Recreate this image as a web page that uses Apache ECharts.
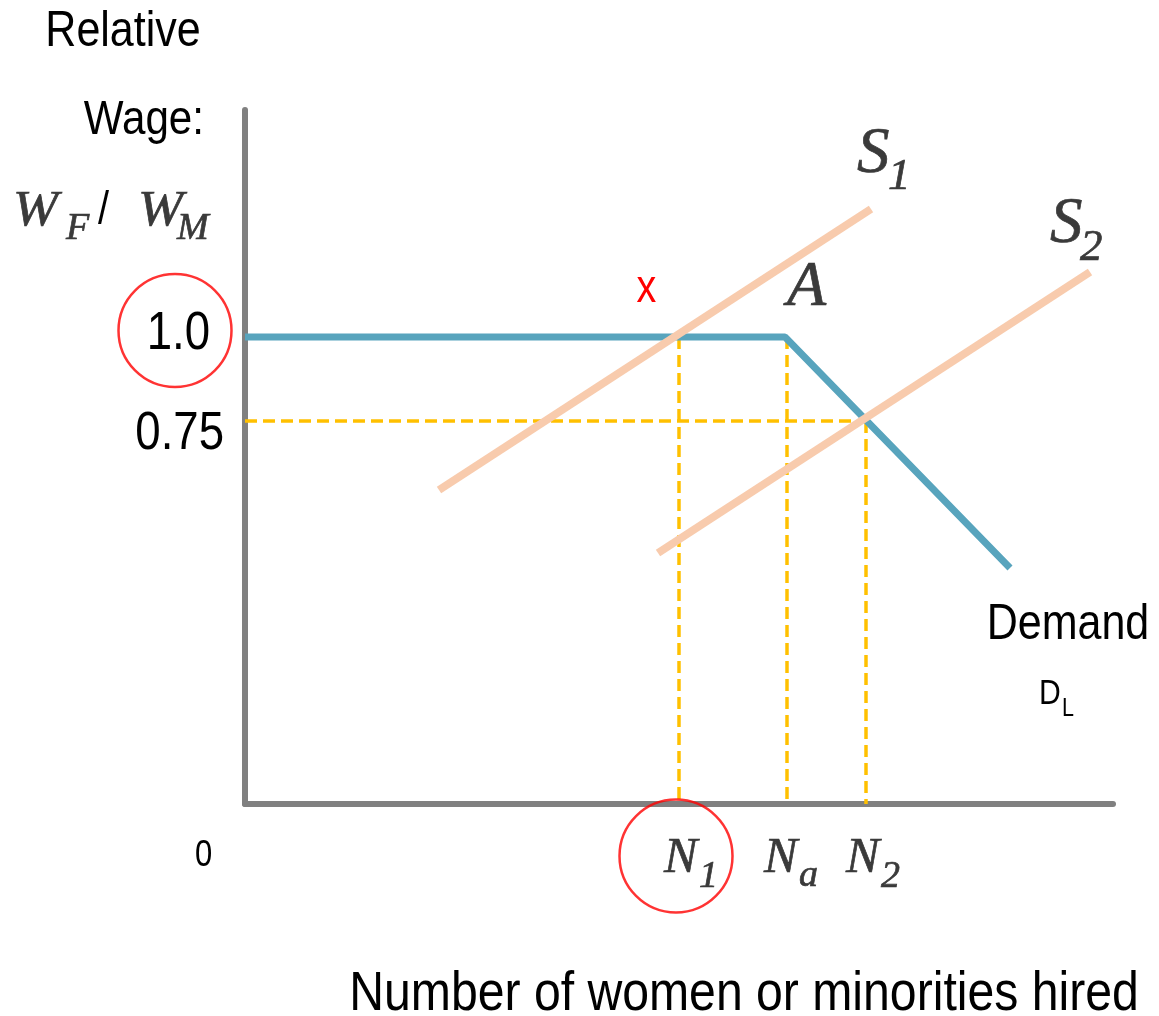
<!DOCTYPE html>
<html>
<head>
<meta charset="utf-8">
<script src="https://cdn.jsdelivr.net/npm/echarts@6/dist/echarts.min.js"></script>
<style>
  html, body { margin: 0; padding: 0; background: #fff; }
  #chart { width: 1159px; height: 1016px; }
</style>
</head>
<body>
<div id="chart"></div>
<script>
// diagram units: x = number hired, y = relative wage (schematic scale)
const demandPts = [[0, 46.7], [54.0, 46.7], [76.5, 23.6]]
const supply1Pts = [[19.4, 31.4], [62.6, 59.5]]
const supply2Pts = [[41.3, 25.1], [84.5, 53.2]]
const wageLevels = [46.7, 38.3] // 1.0, 0.75
const wageLabels = ['1.0', '0.75']
const hireLevels = [43.4, 54.2, 62.1] // N1, Na, N2
const hireSubs = ['1', 'a', '2']

const sansFont = "'Liberation Sans', Arial, sans-serif"
const serifFont = "'Liberation Serif', 'Times New Roman', serif"
const narrow = 0.86 // the original uses a condensed face
const ink = '#3a3a3a'

const W1 = wageLevels[0]
const W2 = wageLevels[1]
const N1 = hireLevels[0]
const Na = hireLevels[1]
const N2 = hireLevels[2]

const dashStyle = { color: '#FFC000', width: 3.5, type: [12, 6] }

function guide(pts) {
  return { type: 'line', data: pts, symbol: 'none', silent: true, lineStyle: dashStyle, z: 1 }
}

const chart = echarts.init(document.getElementById('chart'))

chart.setOption({
  animation: false,
  backgroundColor: '#fff',
  grid: { left: 245, right: 46, top: 110, bottom: 212, containLabel: false, outerBoundsMode: 'none' },
  xAxis: {
    type: 'value',
    min: 0,
    max: 86.8,
    splitLine: { show: false },
    axisTick: { show: false },
    axisLabel: { show: false },
    axisLine: { onZero: false, lineStyle: { color: '#808080', width: 6 } }
  },
  yAxis: {
    type: 'value',
    min: 0,
    max: 69.4,
    splitLine: { show: false },
    axisTick: { show: false },
    axisLabel: { show: false },
    axisLine: { onZero: false, lineStyle: { color: '#808080', width: 6 } }
  },
  series: [
    guide([[0, W2], [N2, W2]]),
    guide([[N1, W1], [N1, 0]]),
    guide([[Na, W1], [Na, 0]]),
    guide([[N2, W2], [N2, 0]]),
    {
      name: 'Demand',
      type: 'line',
      data: demandPts,
      symbol: 'none',
      lineStyle: { color: '#58A4BD', width: 7 },
      z: 2
    },
    {
      name: 'S1',
      type: 'line',
      data: supply1Pts,
      symbol: 'none',
      lineStyle: { color: '#F8CBAD', width: 8 },
      z: 3
    },
    {
      name: 'S2',
      type: 'line',
      data: supply2Pts,
      symbol: 'none',
      lineStyle: { color: '#F8CBAD', width: 8 },
      z: 3
    },
    {
      // red circles around 1.0 and N1
      type: 'scatter',
      clip: false,
      silent: true,
      symbol: 'circle',
      symbolSize: 113,
      itemStyle: { color: 'rgba(0,0,0,0)', borderColor: '#FF0000', borderWidth: 2.5 },
      data: [[-7.0, 47.35], [43.1, -5.2]],
      z: 4
    }
  ]
})

// ---- text, placed through the axes' scales ----
function px(x, y) {
  return chart.convertToPixel({ gridIndex: 0 }, [x, y])
}
function sans(x, y, text, size, align, color) {
  return {
    type: 'text', x: x, y: y, scaleX: narrow, z: 10, silent: true,
    style: { text: text, fontFamily: sansFont, fontSize: size, fill: color || '#000', align: align, verticalAlign: 'middle' }
  }
}
function ital(x, y, text, size, align, sx) {
  return {
    type: 'text', x: x, y: y, scaleX: sx || 1, z: 10, silent: true,
    style: {
      text: text, fontFamily: serifFont, fontStyle: 'italic', fontSize: size,
      fill: ink, stroke: ink, lineWidth: 0.7, align: align, verticalAlign: 'middle'
    }
  }
}

const origin = px(0, 0)
const texts = []

// axis titles
texts.push(sans(123, 32, 'Relative', 50, 'center'))
texts.push(sans(204, 120, 'Wage:', 49, 'right'))
texts.push(ital(13, 212, 'W', 50, 'left', 1.08))
texts.push(ital(66, 229, 'F', 38, 'left'))
texts.push(sans(98, 211, '/', 46, 'left'))
texts.push(ital(138, 212, 'W', 50, 'left', 1.08))
texts.push(ital(177, 229, 'M', 38, 'left'))
texts.push(sans(744, 995, 'Number of women or minorities hired', 56, 'center'))

// y tick labels
const yNudge = [[-35, -3], [-21, 13]]
wageLevels.forEach(function (v, i) {
  const p = px(0, v)
  texts.push(sans(p[0] + yNudge[i][0], p[1] + yNudge[i][1], wageLabels[i], 53, 'right'))
})

// x tick labels
texts.push(sans(origin[0] - 41.5, origin[1] + 52, '0', 36, 'center'))
const xNudge = [-15, -23, -20]
hireLevels.forEach(function (v, i) {
  const p = px(v, 0)
  const left = p[0] + xNudge[i]
  texts.push(ital(left, p[1] + 54.5, 'N', 50, 'left'))
  const subY = hireSubs[i] === 'a' ? p[1] + 72 : p[1] + 73.5
  texts.push(ital(left + 35, subY, hireSubs[i], 38, 'left'))
})

// curve notes
let p = px(40.15, 51.5)
texts.push(sans(p[0], p[1], 'x', 46, 'center', '#FF0000'))
p = px(56.15, 51.55)
texts.push(ital(p[0], p[1], 'A', 64, 'center'))
p = px(61.2, 64.9)
texts.push(ital(p[0], p[1], 'S', 65, 'left'))
texts.push(ital(p[0] + 31, p[1] + 22, '1', 45, 'left'))
p = px(80.5, 57.9)
texts.push(ital(p[0], p[1], 'S', 65, 'left'))
texts.push(ital(p[0] + 30, p[1] + 23, '2', 45, 'left'))
p = px(82.3, 17.9)
texts.push(sans(p[0], p[1], 'Demand', 50, 'center'))
p = px(79.4, 10.95)
texts.push(sans(p[0], p[1], 'D', 35, 'left'))
texts.push(sans(p[0] + 23, p[1] + 14.5, 'L', 25, 'left'))

chart.setOption({ graphic: texts })
</script>
</body>
</html>
